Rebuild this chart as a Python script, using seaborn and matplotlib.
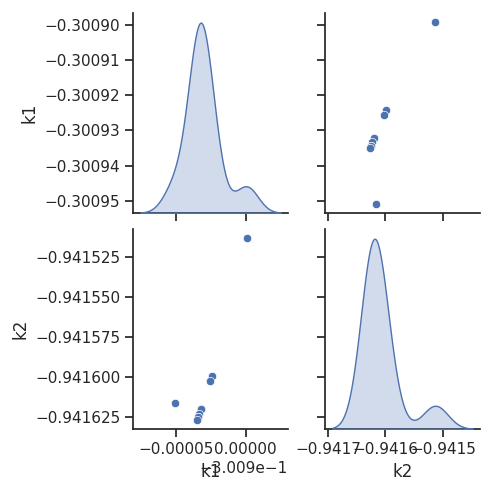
import seaborn as sns
import matplotlib.pyplot as plt
import pandas as pd

# values (some markers sit on top of each other)
k1 = [-0.3008993, -0.3009508, -0.3009243, -0.3009256, -0.3009322,
      -0.3009322, -0.3009332, -0.3009344, -0.3009344, -0.3009350]
k2 = [-0.9415131, -0.9416166, -0.9415997, -0.9416027, -0.9416205,
      -0.9416205, -0.9416231, -0.9416255, -0.9416255, -0.9416270]

df = pd.DataFrame({"k1": k1, "k2": k2})

sns.set_theme(style="ticks")
g = sns.pairplot(df, diag_kind="kde")
g.figure.set_size_inches(4.93, 4.93)
g.figure.savefig("out.png", dpi=100)
